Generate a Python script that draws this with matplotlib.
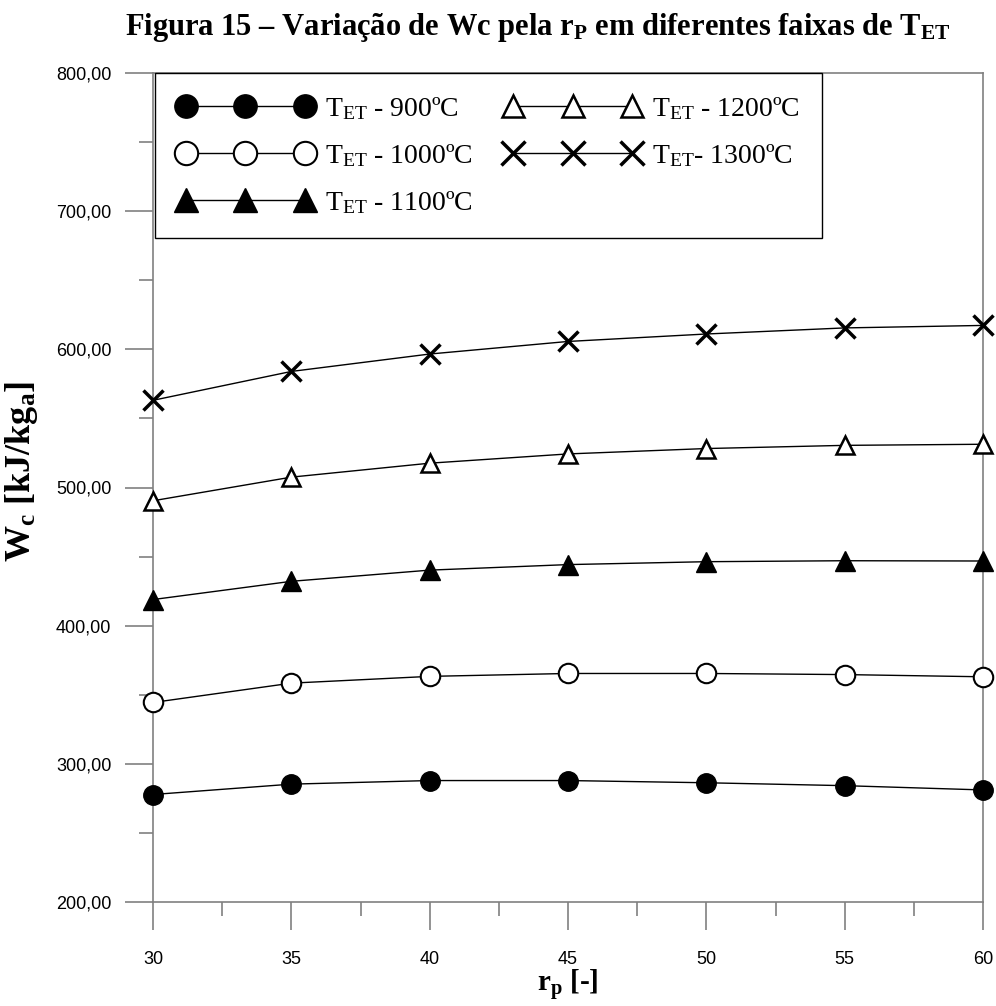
import matplotlib
matplotlib.use("Agg")
import matplotlib.pyplot as plt
import matplotlib.ticker as mtick

# pressure ratio and compressor work for each turbine inlet temperature
rp = [30, 35, 40, 45, 50, 55, 60]
wc_900 = [277.8, 285.3, 287.9, 287.9, 286.3, 284.2, 281.1]
wc_1000 = [344.4, 358.4, 363.3, 365.4, 365.4, 364.6, 363.0]
wc_1100 = [418.9, 432.1, 440.2, 444.2, 446.3, 447.0, 446.8]
wc_1200 = [490.4, 507.5, 517.6, 524.3, 528.2, 530.5, 531.3]
wc_1300 = [563.1, 584.0, 596.6, 605.7, 611.1, 615.5, 617.3]

labels = [r"T$_{\mathrm{ET}}$ - 900ºC", r"T$_{\mathrm{ET}}$ - 1000ºC",
          r"T$_{\mathrm{ET}}$ - 1100ºC", r"T$_{\mathrm{ET}}$ - 1200ºC",
          r"T$_{\mathrm{ET}}$- 1300ºC"]

plt.rcParams["mathtext.fontset"] = "custom"
plt.rcParams["mathtext.rm"] = "Liberation Serif"
plt.rcParams["mathtext.it"] = "Liberation Serif:italic"
plt.rcParams["mathtext.bf"] = "Liberation Serif:bold"

fig = plt.figure(figsize=(9.96, 10.06), dpi=100)
ax = fig.add_axes([153 / 996, 1 - 902 / 1006, 830 / 996, 829 / 1006])

line_kw = dict(color="black", lw=1.0, clip_on=False, zorder=3)
ax.plot(rp, wc_900, marker="o", ms=14, mfc="black", mec="black", label=labels[0], **line_kw)
ax.plot(rp, wc_1000, marker="o", ms=14, mfc="white", mec="black", mew=1.5, label=labels[1], **line_kw)
ax.plot(rp, wc_1100, marker="^", ms=14, mfc="black", mec="black", label=labels[2], **line_kw)
ax.plot(rp, wc_1200, marker="^", ms=13, mfc="white", mec="black", mew=1.8, label=labels[3], **line_kw)
ax.plot(rp, wc_1300, marker="x", ms=14, mec="black", mew=2.5, label=labels[4], **line_kw)

ax.set_xlim(30, 60)
ax.set_ylim(200, 800)
ax.xaxis.set_major_locator(mtick.MultipleLocator(5))
ax.xaxis.set_minor_locator(mtick.MultipleLocator(2.5))
ax.yaxis.set_major_locator(mtick.MultipleLocator(100))
ax.yaxis.set_minor_locator(mtick.MultipleLocator(50))
ax.yaxis.set_major_formatter(mtick.FuncFormatter(lambda v, p: f"{v:.2f}".replace(".", ",")))

for s in ax.spines.values():
    s.set_color("gray")
    s.set_linewidth(1.2)
ax.tick_params(which="major", direction="out", length=20, width=1.2, color="gray",
               labelsize=13)
ax.tick_params(axis="y", which="major", pad=10)
ax.tick_params(axis="x", which="major", pad=15)
ax.tick_params(which="minor", direction="out", length=10, width=1.2, color="gray")
for t in ax.get_xticklabels() + ax.get_yticklabels():
    t.set_fontfamily("Liberation Sans")

ax.set_xlabel(r"r$_{\mathbf{p}}$ [-]", fontsize=21, fontweight="bold",
              fontfamily="Liberation Serif", labelpad=0)
ax.set_ylabel(r"W$_{\mathbf{c}}$ [kJ/kg$_{\mathbf{a}}$]", fontsize=26, fontweight="bold",
              fontfamily="Liberation Serif")
ax.yaxis.set_label_coords(-0.136, 0.519)
fig.text(0.54, 0.973, r"Figura 15 – Variação de Wc pela r$_{\mathbf{P}}$ em diferentes faixas de T$_{\mathbf{ET}}$",
         ha="center", va="center", fontsize=22, fontweight="bold", fontfamily="Liberation Serif")

leg = ax.legend(loc="upper left", bbox_to_anchor=(0.0024, 1.0), ncol=2, numpoints=3,
                markerscale=1.2, handlelength=4.9, handletextpad=0.42, columnspacing=1.15,
                borderaxespad=0, borderpad=0.8, labelspacing=0.72, fancybox=False,
                framealpha=1, edgecolor="black",
                prop={"family": "Liberation Serif", "size": 20})
leg.get_frame().set_linewidth(1.0)
leg.set_zorder(5)

fig.savefig("out.png", dpi=100)
